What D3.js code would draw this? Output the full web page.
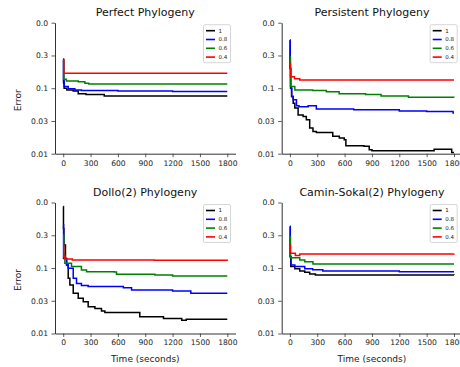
<!DOCTYPE html>
<html>
<head>
<meta charset="utf-8">
<script src="https://d3js.org/d3.v7.min.js"></script>
<style>
  body { margin: 0; background: #fff; }
  text { font-family: "DejaVu Sans", sans-serif; }
</style>
</head>
<body>
<div id="chart"></div>
<script>
var width = 460,
    height = 367;

// legend entries + colours
var seriesNames = ["1", "0.8", "0.6", "0.4"];
var seriesColors = ["#000000", "#0000ff", "#008000", "#ff0000"];

var xTicks = [0, 300, 600, 900, 1200, 1500, 1800];
var yTicks = [0.01, 0.0316, 0.1, 0.316, 1];
var yTickLabels = ["0.01", "0.03", "0.1", "0.3", "0.0"];

// [time (s), error]
var perfect1 = [[0,0.28],[4,0.12],[10,0.1],[40,0.094],[110,0.091],[165,0.082],[250,0.08],[450,0.076],[1800,0.076]];
var perfect08 = [[0,0.27],[4,0.13],[10,0.106],[55,0.098],[128,0.094],[200,0.092],[600,0.091],[1200,0.089],[1800,0.089]];
var perfect06 = [[0,0.26],[6,0.137],[35,0.129],[165,0.126],[238,0.119],[280,0.116],[1800,0.116]];
var perfect04 = [[0,0.27],[6,0.169],[1800,0.169]];

var persistent1 = [[0,0.54],[3,0.2],[8,0.1],[18,0.075],[36,0.059],[54,0.05],[90,0.039],[145,0.037],[180,0.033],[217,0.0246],[253,0.0219],[290,0.0211],[434,0.0211],[470,0.0184],[542,0.0173],[596,0.0164],[614,0.0132],[813,0.013],[870,0.0115],[900,0.0111],[1578,0.0111],[1582,0.0117],[1760,0.0117],[1775,0.0104],[1800,0.0104]];
var persistent08 = [[0,0.54],[3,0.2],[8,0.1],[20,0.075],[36,0.0665],[72,0.054],[100,0.052],[190,0.052],[200,0.054],[270,0.054],[290,0.048],[700,0.047],[1200,0.045],[1500,0.044],[1780,0.044],[1790,0.042],[1800,0.042]];
var persistent06 = [[0,0.3],[6,0.106],[54,0.094],[250,0.092],[400,0.088],[540,0.082],[830,0.08],[1000,0.076],[1300,0.073],[1800,0.072]];
var persistent04 = [[0,0.24],[6,0.15],[50,0.14],[108,0.134],[1800,0.134]];

var dollo1 = [[0,0.87],[3,0.4],[8,0.225],[25,0.14],[37,0.111],[55,0.0695],[73,0.055],[110,0.041],[165,0.0344],[220,0.0305],[274,0.0255],[348,0.0241],[420,0.022],[457,0.021],[805,0.021],[840,0.018],[1100,0.017],[1300,0.016],[1350,0.0165],[1800,0.0165]];
var dollo08 = [[0,0.456],[4,0.14],[37,0.111],[55,0.099],[110,0.0695],[146,0.058],[200,0.054],[274,0.052],[660,0.05],[750,0.046],[1200,0.0445],[1400,0.041],[1800,0.041]];
var dollo06 = [[0,0.32],[6,0.158],[18,0.118],[91,0.105],[200,0.093],[256,0.088],[560,0.087],[585,0.08],[1006,0.078],[1200,0.0755],[1800,0.0755]];
var dollo04 = [[0,0.225],[6,0.149],[18,0.137],[100,0.133],[1000,0.131],[1800,0.129]];

var camin1 = [[0,0.43],[4,0.15],[10,0.105],[54,0.097],[108,0.09],[163,0.086],[217,0.081],[280,0.0785],[1800,0.078]];
var camin08 = [[0,0.43],[4,0.15],[12,0.111],[54,0.105],[163,0.097],[250,0.094],[361,0.09],[1200,0.088],[1800,0.088]];
var camin06 = [[0,0.3],[6,0.144],[108,0.133],[163,0.125],[253,0.115],[1800,0.115]];
var camin04 = [[0,0.225],[6,0.168],[60,0.155],[108,0.163],[1800,0.165]];

var panels = [
  {title: "Perfect Phylogeny", series: [perfect1, perfect08, perfect06, perfect04], left: 55, top: 22.7, ylab: true, xlab: false},
  {title: "Persistent Phylogeny", series: [persistent1, persistent08, persistent06, persistent04], left: 281.7, top: 22.7, ylab: false, xlab: false},
  {title: "Dollo(2) Phylogeny", series: [dollo1, dollo08, dollo06, dollo04], left: 55, top: 202.5, ylab: true, xlab: true},
  {title: "Camin-Sokal(2) Phylogeny", series: [camin1, camin08, camin06, camin04], left: 281.7, top: 202.5, ylab: false, xlab: true}
];

var plotW = 180.5, //axes width
    plotH = 131; //axes height

var svg = d3.select('#chart')
    .append('svg')
    .attr('width', width)
    .attr('height', height);

var x = d3.scaleLinear()
    .domain([-90, 1890])
    .range([0, plotW]);

var y = d3.scaleLog()
    .domain([0.01, 1])
    .range([plotH, 0]);

var line = d3.line()
    .x(function(d){ return x(d[0]) })
    .y(function(d){ return y(d[1]) })
    .curve(d3.curveStepAfter);

panels.forEach(function(p){
  var g = svg.append('g')
      .attr('transform', 'translate(' + p.left + ',' + p.top + ')');

  // series
  p.series.forEach(function(s, i){
    g.append('path')
      .datum(s)
      .attr('d', line)
      .attr('fill', 'none')
      .attr('stroke', seriesColors[i])
      .attr('stroke-width', 1.5)
      .attr('stroke-linejoin', 'miter');
  });

  var xAxis = g.append('g')
      .attr('transform', 'translate(0,' + plotH + ')')
      .call(d3.axisBottom(x)
        .tickValues(xTicks)
        .tickSize(3.5)
        .tickSizeOuter(0)
        .tickPadding(3)
        .tickFormat(d3.format('d')));

  var yAxis = g.append('g')
      .call(d3.axisLeft(y)
        .tickValues(yTicks)
        .tickSize(3.5)
        .tickSizeOuter(0)
        .tickPadding(3.5)
        .tickFormat(function(d, i){ return yTickLabels[i] }));

  [xAxis, yAxis].forEach(function(a){
    a.attr('font-family', '"DejaVu Sans", sans-serif')
      .attr('font-size', 7.6);
    a.selectAll('.domain').attr('stroke', '#333').attr('stroke-width', 1);
    a.selectAll('.tick line').attr('stroke', '#333').attr('stroke-width', 0.8);
    a.selectAll('.tick text').attr('fill', '#222');
  });

  g.append('text')
    .attr('x', plotW / 2)
    .attr('y', -6.5)
    .attr('text-anchor', 'middle')
    .attr('font-size', 11)
    .attr('fill', '#111')
    .text(p.title);

  if (p.ylab) {
    g.append('text')
      .attr('transform', 'translate(-34,' + (plotH / 2 + 12) + ') rotate(-90)')
      .attr('text-anchor', 'middle')
      .attr('font-size', 9)
      .attr('fill', '#222')
      .text('Error');
  }

  if (p.xlab) {
    g.append('text')
      .attr('x', plotW / 2)
      .attr('y', plotH + 28)
      .attr('text-anchor', 'middle')
      .attr('font-size', 9)
      .attr('fill', '#222')
      .text('Time (seconds)');
  }

  // legend
  var leg = g.append('g')
      .attr('transform', 'translate(' + (plotW - 32) + ',2)');

  leg.append('rect')
    .attr('width', 27)
    .attr('height', 38)
    .attr('rx', 1.5)
    .attr('fill', '#fff')
    .attr('fill-opacity', 0.8)
    .attr('stroke', '#ccc')
    .attr('stroke-width', 0.8);

  var rows = leg.selectAll('.row')
      .data(seriesNames)
      .enter()
      .append('g')
      .attr('transform', function(d, i){ return 'translate(0,' + (6 + i * 8.8) + ')' });

  rows.append('line')
    .attr('x1', 2.5)
    .attr('x2', 11.5)
    .attr('stroke', function(d, i){ return seriesColors[i] })
    .attr('stroke-width', 1.6);

  rows.append('text')
    .attr('x', 15)
    .attr('dy', '0.35em')
    .attr('font-size', 5.5)
    .attr('fill', '#222')
    .text(function(d){ return d });
});
</script>
</body>
</html>
